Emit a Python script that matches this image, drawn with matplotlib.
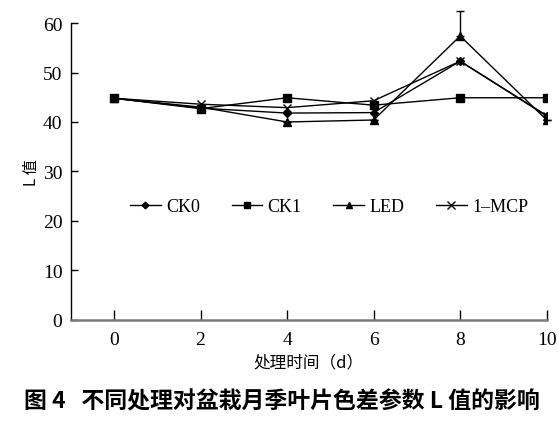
import matplotlib
matplotlib.use("Agg")
import matplotlib.pyplot as plt
from matplotlib.lines import Line2D

days = [0, 2, 4, 6, 8, 10]
ck0 = [44.8, 42.8, 41.8, 41.9, 52.3, 41.2]
ck1 = [44.8, 42.7, 44.9, 43.4, 44.9, 44.9]
led = [44.8, 43.0, 40.0, 40.4, 57.4, 40.4]
mcp = [44.8, 43.6, 42.9, 44.3, 52.3, 41.3]
led_err = [0, 0, 0, 0, 5.0, 0]
labels = ["CK0", "CK1", "LED", "1–MCP"]
xticks = [0, 2, 4, 6, 8, 10]
yticks = [0, 10, 20, 30, 40, 50, 60]

serif = ["Liberation Serif", "DejaVu Serif"]
cjk = ["Noto Sans CJK SC", "DejaVu Sans"]

fig = plt.figure(figsize=(5.59, 4.31), dpi=100)
ax = fig.add_axes([0.1265, 0.256, 0.978 - 0.1265, 0.944 - 0.256])

lw = 1.0
styles = [("D", 4.0), ("s", 5.5), ("^", 5.5), ("x", 6.0)]
ax.plot(days, ck0, color="black", lw=lw, marker="D", ms=4)
ax.plot(days, ck1, color="black", lw=lw, marker="s", ms=5.5)
eb = ax.errorbar(days, led, yerr=[[0] * 6, led_err], color="black", lw=lw, marker="^", ms=5.5,
                 capsize=3, elinewidth=1.0)
for part in eb.lines[1] + tuple(eb.lines[2]):
    part.set_clip_on(False)
ax.plot(days, mcp, color="black", lw=lw, marker="x", ms=6, mew=1.0)

ax.set_xlim(-1, 10)
ax.set_ylim(0, 60)
ax.set_xticks(xticks)
ax.set_yticks(yticks)
ax.spines["top"].set_visible(False)
ax.spines["right"].set_visible(False)
ax.spines["left"].set_color("black")
ax.spines["left"].set_linewidth(1.0)
ax.spines["bottom"].set_color("#7a7a7a")
ax.spines["bottom"].set_linewidth(1.8)
ax.tick_params(axis="x", direction="in", length=7, width=1.0, color="black", pad=8)
ax.tick_params(axis="y", direction="in", length=5, width=1.0, color="black", pad=6)
for t in ax.get_xticklabels() + ax.get_yticklabels():
    t.set_fontfamily(serif)
    t.set_fontsize(14)

ax.set_xlabel("处理时间（d）", family=cjk, fontsize=12, labelpad=4)
ax.set_ylabel("L 值", family=cjk, fontsize=11, labelpad=2)

handles = [Line2D([], [], color="black", lw=lw, marker=m, ms=s * 0.85, mew=1.0)
           for m, s in styles]
leg = ax.legend(handles, labels, loc="center", bbox_to_anchor=(0.543, 0.38), ncol=4,
                frameon=False, prop={"family": serif, "size": 13}, handlelength=1.7,
                handletextpad=0.3, columnspacing=1.75, borderaxespad=0)

fig.text(0.505, 0.04, "图 4   不同处理对盆栽月季叶片色差参数 L 值的影响",
         family=cjk, fontsize=16.5, fontweight="bold", ha="center", va="bottom")

fig.savefig("out.png", dpi=100)
